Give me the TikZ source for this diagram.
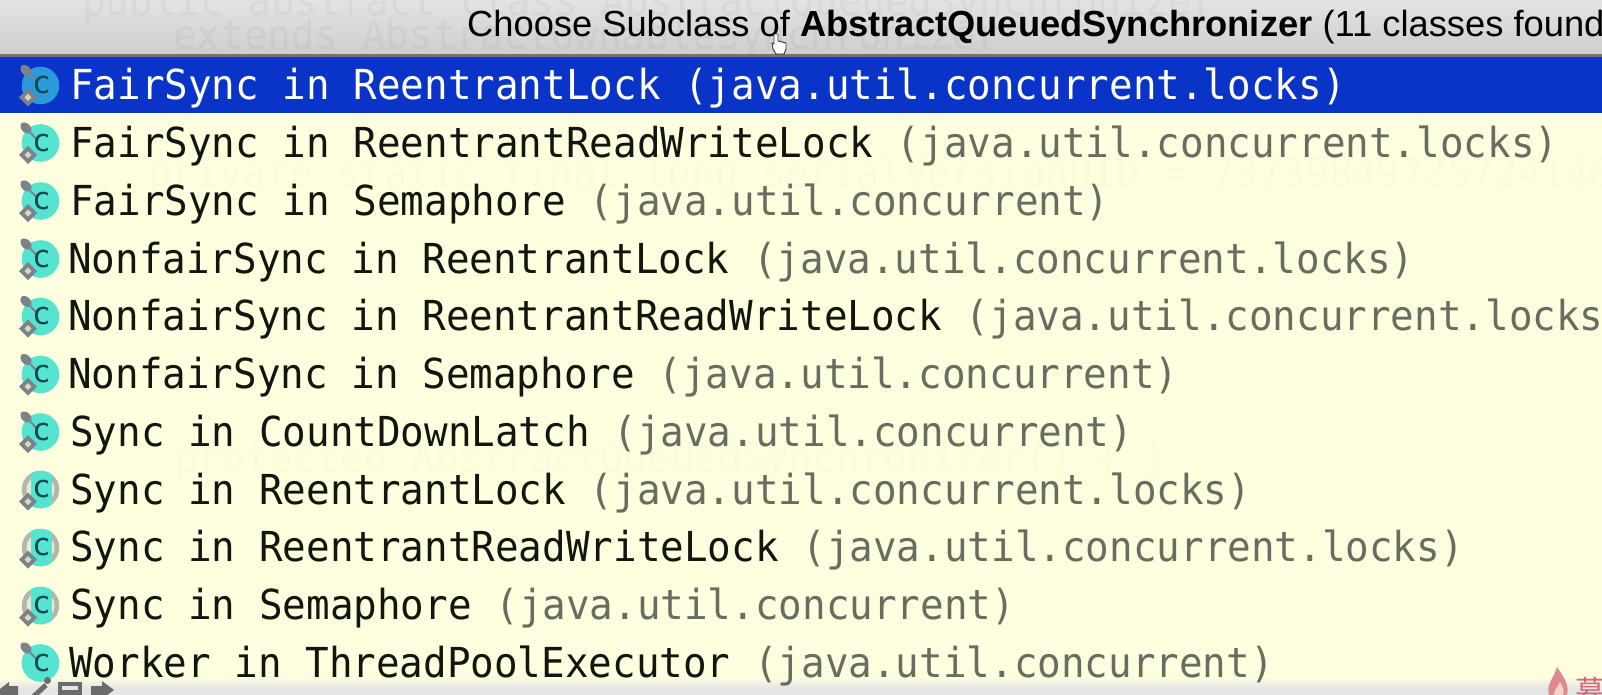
\documentclass[tikz,border=0pt]{standalone}
\usepackage{fontspec}
\setmainfont{Liberation Sans}
\newfontfamily\rowfont[FakeStretch=0.95]{DejaVu Sans Mono}
\newfontfamily\iconfont{DejaVu Sans Mono}
\newfontfamily\wmfont{Noto Sans CJK SC}
\definecolor{paper}{HTML}{FDFFDF}
\definecolor{selblue}{HTML}{0A33C8}
\definecolor{pkggray}{HTML}{6A6C62}
\definecolor{ink}{HTML}{141410}
\definecolor{iconteal}{HTML}{55E4CF}
\definecolor{iconsel}{HTML}{2A9AD8}
\definecolor{icongray}{HTML}{7E8288}
\definecolor{ringgray}{HTML}{B4B6AE}
\definecolor{lettert}{HTML}{0F4A52}
\definecolor{flame}{HTML}{DE8A8E}
\definecolor{flamein}{HTML}{F6D4C8}
\definecolor{wmtext}{HTML}{D2687A}
\tikzset{
  rowtext/.style={anchor=base west,inner sep=0pt,font=\rowfont\fontsize{41.3}{42}\selectfont,text=ink},
  titletext/.style={anchor=base west,inner sep=0pt,font=\fontsize{36.3}{37}\selectfont,text=black},
  ghost/.style={anchor=base west,inner sep=0pt,font=\rowfont\fontsize{41.3}{42}\selectfont,text=black,opacity=#1},
  iconletter/.style={inner sep=0pt,font=\iconfont\fontsize{31}{31}\selectfont,text=lettert},
  toolbar/.style={fill=black!58},
}
\newcommand{\clsicon}[2]{% y, face colour
  \begin{scope}[shift={(40.5,#1)}]
    \fill[#2] (0,0) circle (18.8);
    \draw[icongray,line width=2] (-10,-10) -- (-4,-4);
    \fill[icongray,rotate around={-45:(-14.5,-15)}] (-14.5,-15) ellipse (6.5 and 4.5);
    \node[iconletter] at (1,0) {c};
  \end{scope}}
\newcommand{\abstricon}[1]{%
  \begin{scope}[shift={(40.5,#1)}]
    \fill[ringgray] (0,0) circle (18.8);
    \fill[paper!70!ringgray] (0,0) circle (14);
    \begin{scope}
      \clip (0,0) circle (18.8);
      \fill[iconteal] (-9.5,-19) rectangle (11,19);
    \end{scope}
    \node[iconletter] at (1,0) {c};
  \end{scope}}
\newcommand{\diamondicon}[1]{%
  \begin{scope}[shift={(28,#1+12)}]
    \fill[icongray] (-9,0) -- (0,-9) -- (9,0) -- (0,9) -- cycle;
    \fill[paper!85!black] (-3.5,0) -- (0,-3.5) -- (3.5,0) -- (0,3.5) -- cycle;
  \end{scope}}
\begin{document}
\begin{tikzpicture}[x=1pt,y=-1pt]
\useasboundingbox (0,0) rectangle (1602,695);
\begin{scope}
\clip (0,0) rectangle (1602,695);
% backgrounds
\shade[top color=black!11,bottom color=black!19] (0,0) rectangle (1602,54);
\fill[black!55] (0,54) rectangle (1602,57);
\fill[paper] (0,57) rectangle (1602,695);
\fill[selblue] (0,57) rectangle (1602,113.5);
\fill[white!80!paper] (0,113.5) rectangle (1602,115);
\shade[top color=paper,bottom color=black!10] (0,677) rectangle (1602,688);
\fill[black!10] (0,688) rectangle (1602,695);
% faint text behind the popup
\begin{scope}
\clip (0,0) rectangle (1602,54);
\node[ghost=.035] (g1) at (82,16) {public abstract class AbstractQueuedSynchronizer};
\node[ghost=.035] (g2) at (173,50) {extends AbstractOwnableSynchronizer};
\end{scope}
\node[ghost=.012] (g4) at (148,188) {private static final long serialVersionUID = 7373984972572414691L;};
\node[ghost=.012] (g3) at (175,472) {protected AbstractQueuedSynchronizer() \{ \}};
% title
\node[titletext] (title) at (467,36.5) {Choose Subclass of \textbf{AbstractQueuedSynchronizer} (11 classes found)};
% hand cursor
\fill[white,draw=black!80,line width=.9,line join=round] (774,34) -- (774,44) -- (772,43) -- (773,49) -- (776,54) -- (784,54) -- (786,49) -- (786,43) -- (778,41) -- (778,34) -- cycle;
% icons
\clsicon{85.5}{iconsel}\diamondicon{85.5}
\clsicon{143}{iconteal}\diamondicon{143}
\clsicon{201}{iconteal}\diamondicon{201}
\clsicon{259}{iconteal}\diamondicon{259}
\clsicon{316.5}{iconteal}\diamondicon{316.5}
\clsicon{374.5}{iconteal}\diamondicon{374.5}
\clsicon{432}{iconteal}\diamondicon{432}
\abstricon{489.5}\diamondicon{489.5}
\abstricon{547.5}\diamondicon{547.5}
\abstricon{605.5}\diamondicon{605.5}
\clsicon{663}{iconteal}
% rows
\node[rowtext,text=white] (r1) at (70,100) {FairSync in ReentrantLock (java.util.concurrent.locks)};
\node[rowtext] (r2) at (70,157.5) {FairSync in ReentrantReadWriteLock \textcolor{pkggray}{(java.util.concurrent.locks)}};
\node[rowtext] (r3) at (70,215) {FairSync in Semaphore \textcolor{pkggray}{(java.util.concurrent)}};
\node[rowtext] (r4) at (68,273) {NonfairSync in ReentrantLock \textcolor{pkggray}{(java.util.concurrent.locks)}};
\node[rowtext] (r5) at (68,330.5) {NonfairSync in ReentrantReadWriteLock \textcolor{pkggray}{(java.util.concurrent.locks)}};
\node[rowtext] (r6) at (68,388.5) {NonfairSync in Semaphore \textcolor{pkggray}{(java.util.concurrent)}};
\node[rowtext] (r7) at (70,446) {Sync in CountDownLatch \textcolor{pkggray}{(java.util.concurrent)}};
\node[rowtext] (r8) at (70,504) {Sync in ReentrantLock \textcolor{pkggray}{(java.util.concurrent.locks)}};
\node[rowtext] (r9) at (70,561.5) {Sync in ReentrantReadWriteLock \textcolor{pkggray}{(java.util.concurrent.locks)}};
\node[rowtext] (r10) at (70,619) {Sync in Semaphore \textcolor{pkggray}{(java.util.concurrent)}};
\node[rowtext] (r11) at (69,677) {Worker in ThreadPoolExecutor \textcolor{pkggray}{(java.util.concurrent)}};
% bottom toolbar
\fill[toolbar] (0,689) -- (9,682) -- (9,686) -- (18,686) -- (18,695) -- (0,695) -- cycle;
\draw[black!58,line width=5] (33,697) -- (46,685);
\fill[black!58] (47.5,680.5) circle (3.5);
\fill[toolbar] (58,682) rectangle (82,695);
\fill[black!10] (62,686) rectangle (78,689.5);
\fill[toolbar] (91,686) -- (102,686) -- (102,681) -- (114,690) -- (107,695) -- (91,695) -- cycle;
% watermark
\fill[flame] (1549,695) .. controls (1546,684) and (1553,680) .. (1557,667) .. controls (1562,675) and (1570,684) .. (1567,695) -- cycle;
\fill[flamein] (1554,695) .. controls (1554,689) and (1558,687) .. (1560,682) .. controls (1562,686) and (1565,690) .. (1563,695) -- cycle;
\node[anchor=base west,inner sep=0pt,font=\wmfont\fontsize{30}{30}\selectfont,text=wmtext] (wm) at (1575,702) {慕};
\end{scope}
\end{tikzpicture}
\end{document}
